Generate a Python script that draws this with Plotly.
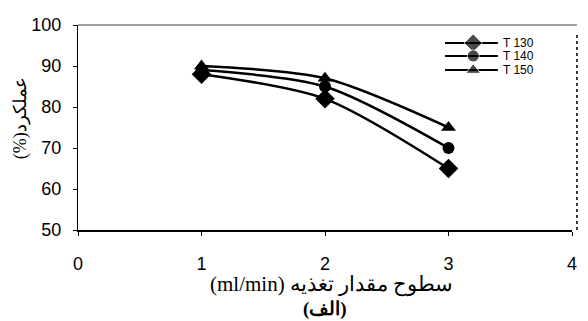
import plotly.graph_objects as go

feed_rate = [1, 2, 3]
t130 = [88, 82, 65]
t140 = [89, 85, 70]
t150 = [90, 87, 75]
series_names = ["T 130", "T 140", "T 150"]
x_ticks = [0, 1, 2, 3, 4]
y_ticks = [50, 60, 70, 80, 90, 100]

symbols = ["diamond", "circle", "triangle-up"]
sizes = [15, 12, 13]

fig = go.Figure()
for name, vals, sym, sz in zip(series_names, [t130, t140, t150], symbols, sizes):
    fig.add_trace(go.Scatter(
        x=feed_rate, y=vals, name=name, mode="lines+markers", showlegend=False,
        line=dict(color="black", width=2.5, shape="spline", smoothing=0.8),
        marker=dict(symbol=sym, size=sz, color="black"),
    ))

# hand-drawn legend on an overlay axis spanning the plot area (0..1)
leg_x0, leg_x1, leg_xm, leg_tx = 0.743, 0.850, 0.80, 0.856
leg_rows = [0.912, 0.849, 0.780]
leg_sizes = [14, 12, 13]
for name, sym, sz, ry in zip(series_names, symbols, leg_sizes, leg_rows):
    fig.add_trace(go.Scatter(
        x=[leg_x0, leg_xm, leg_x1], y=[ry, ry, ry], mode="lines+markers",
        xaxis="x2", yaxis="y2", showlegend=False, hoverinfo="skip",
        line=dict(color="black", width=2),
        marker=dict(symbol=sym, size=[0, sz, 0], color="black"),
    ))
    fig.add_annotation(text=name, xref="x2", yref="y2", x=leg_tx, y=ry,
                       xanchor="left", yanchor="middle", showarrow=False,
                       font=dict(family="Liberation Sans, Arial", size=12, color="black"))

fig.update_layout(
    width=588, height=321,
    margin=dict(l=78, r=16, t=25, b=91),
    plot_bgcolor="white", paper_bgcolor="white",
    showlegend=False,
    font=dict(family="Liberation Sans, Arial", color="black"),
    xaxis2=dict(overlaying="x", range=[0, 1], visible=False, automargin=False),
    yaxis2=dict(overlaying="y", range=[0, 1], visible=False, automargin=False),
    xaxis=dict(range=[0, 4], tickvals=x_ticks, showgrid=False, zeroline=False,
               showline=True, linecolor="black", linewidth=2,
               ticks="outside", ticklen=4, tickcolor="black", automargin=False,
               ticklabelstandoff=12,
               tickfont=dict(size=18, family="Liberation Sans, Arial", color="black")),
    yaxis=dict(range=[50, 100], tickvals=y_ticks, showgrid=False, zeroline=False,
               showline=True, linecolor="black", linewidth=1,
               ticks="outside", ticklen=4, tickcolor="black", automargin=False,
               ticklabelstandoff=8,
               tickfont=dict(size=18, family="Liberation Sans, Arial", color="black")),
)

# frame: top gray, right black dotted
fig.add_shape(type="line", xref="paper", yref="paper", x0=0, x1=1.01, y0=1, y1=1,
              line=dict(color="gray", width=1.5))
fig.add_shape(type="line", xref="paper", yref="paper", x0=1.01, x1=1.01, y0=0, y1=0.96,
              line=dict(color="black", width=1.5, dash="dot"))

fig.add_annotation(text="(ml/min) سطوح مقدار تغذیه", xref="paper", yref="paper",
                   x=0.513, y=-0.265, showarrow=False, yanchor="middle", xanchor="center",
                   font=dict(family="Liberation Serif, Times New Roman", size=21, color="black"))
fig.add_annotation(text="<b>(الف)</b>", xref="paper", yref="paper",
                   x=0.5, y=-0.385, showarrow=False, yanchor="middle", xanchor="center",
                   font=dict(family="Liberation Serif, Times New Roman", size=19, color="black"))
fig.add_annotation(text="(%)عملکرد", xref="paper", yref="paper",
                   x=-0.117, y=0.546, showarrow=False, textangle=-90,
                   xanchor="center", yanchor="middle",
                   font=dict(family="Liberation Serif, Times New Roman", size=18, color="black"))

fig.write_html("out.html", config={"displayModeBar": False},
               post_script="document.body.style.margin='0';")
